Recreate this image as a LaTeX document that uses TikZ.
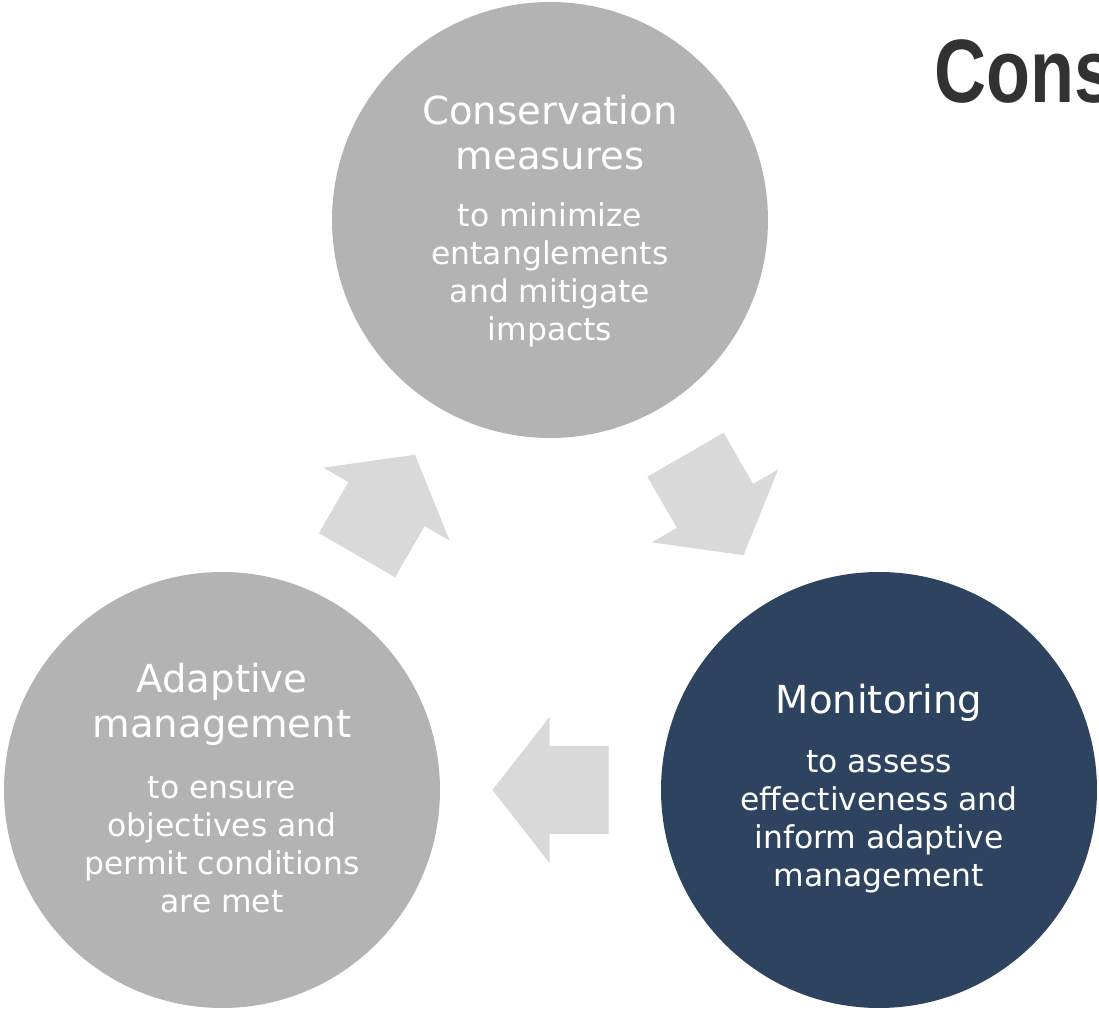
\documentclass[tikz,border=0pt]{standalone}
\usepackage{fontspec}
\setmainfont{DejaVu Sans}
\newfontfamily\headfont{Liberation Sans}
\usetikzlibrary{positioning,calc}

\definecolor{stepgray}{HTML}{B3B3B3}
\definecolor{stepnavy}{HTML}{2E4360}
\definecolor{arrowgray}{HTML}{D9D9D9}
\definecolor{headgray}{HTML}{313332}

\tikzset{
  stepcircle/.style={circle, minimum size=218pt, inner sep=0pt, draw=none, fill=stepgray},
  steptitle/.style={text=white, align=center, inner sep=0pt, font=\fontsize{19.3}{22.5}\selectfont},
  stepbody/.style={text=white, align=center, inner sep=0pt, font=\fontsize{15.7}{19}\selectfont},
  cyclearrow/.pic={
    \fill[arrowgray] (58,0) -- (1,73) -- (1,44) -- (-58,44) -- (-58,-44) -- (1,-44) -- (1,-73) -- cycle;
  }
}

\begin{document}
\begin{tikzpicture}[x=0.5pt, y=-0.5pt]

\clip (0,0) rectangle (1099,1010);

% Titel
\node[anchor=base west, inner sep=0pt, text=headgray] (heading) at (934,103)
	{\headfont\bfseries\fontsize{45}{50}\selectfont\scalebox{0.8}[1]{Cons}};

% Kreise
\node[stepcircle] (cons) at (550,220) {};
\node[stepcircle] (adapt) at (222,790) {};
\node[stepcircle, fill=stepnavy] (monit) at (879,790) {};

% Texte
\node[steptitle] (cons-title) at ([yshift=43.5pt]cons.center) {Conservation\\measures};
\node[stepbody] (cons-text) at ([yshift=-27.5pt]cons.center) {to minimize\\entanglements\\and mitigate\\impacts};

\node[steptitle] (monit-title) at ([yshift=43.5pt]monit.center) {Monitoring};
\node[stepbody] (monit-text) at ([yshift=-16pt]monit.center) {to assess\\effectiveness and\\inform adaptive\\management};

\node[steptitle] (adapt-title) at ([yshift=43pt]adapt.center) {Adaptive\\management};
\node[stepbody] (adapt-text) at ([yshift=-27.5pt]adapt.center) {to ensure\\objectives and\\permit conditions\\are met};

% Pfeile
\pic[rotate=-60] at ($(cons)!0.5!(monit)$) {cyclearrow};
\pic[rotate=180] at ($(monit)!0.5!(adapt)$) {cyclearrow};
\pic[rotate=60] at ($(adapt)!0.5!(cons)$) {cyclearrow};

\end{tikzpicture}
\end{document}
